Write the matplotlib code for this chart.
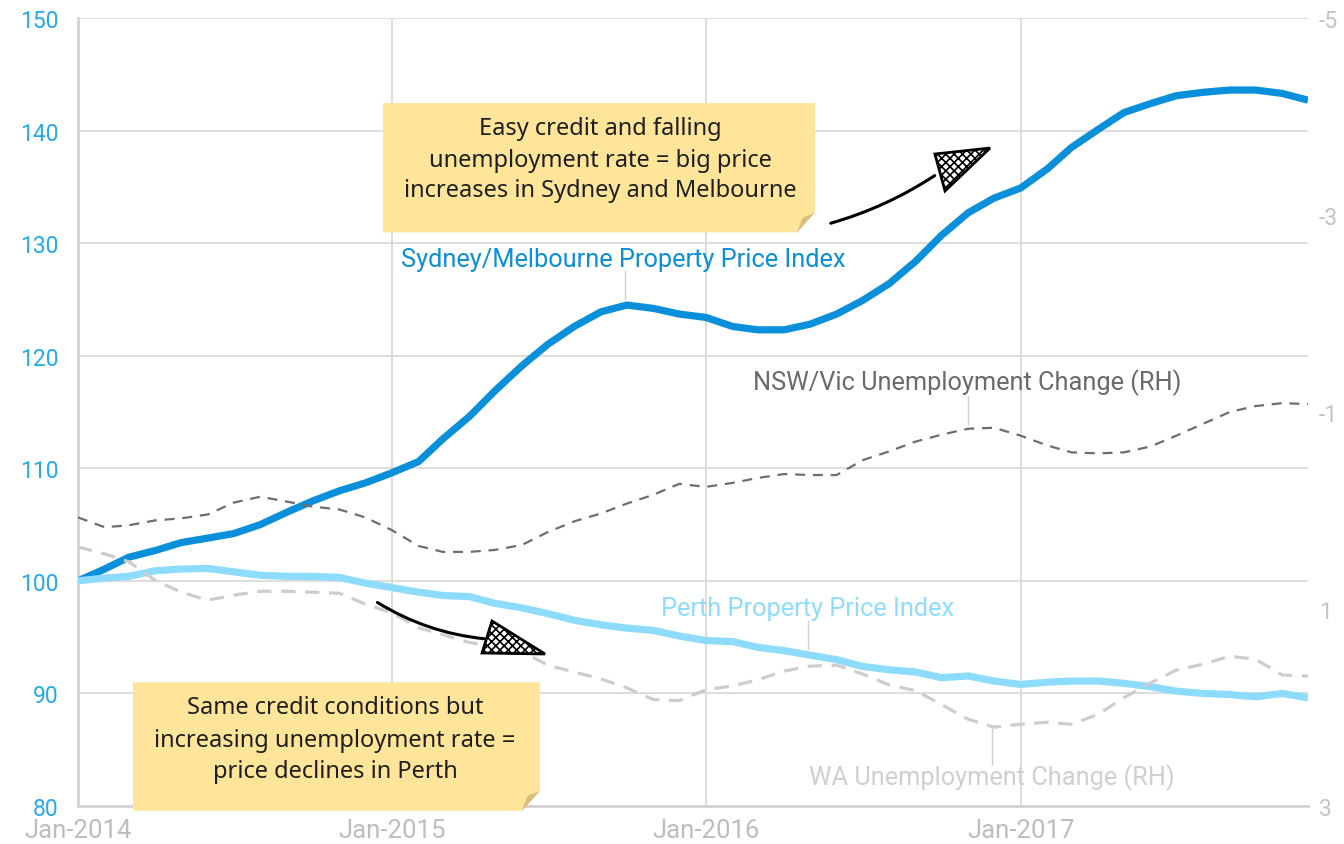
import matplotlib
matplotlib.use("Agg")
import matplotlib.pyplot as plt
import matplotlib.dates as mdates
from matplotlib.patches import Polygon, FancyArrowPatch
import pandas as pd

plt.rcParams['font.family'] = ['Roboto', 'DejaVu Sans']
plt.rcParams['axes.unicode_minus'] = False
plt.rcParams['hatch.linewidth'] = 1.2

# Monthly series, Jan-2014 to Dec-2017
months = pd.date_range('2014-01-01', periods=48, freq='MS')

syd_mel_index = [
    100.0, 101.05, 102.1, 102.7, 103.4, 103.8, 104.2, 105.0, 106.1, 107.1, 108.0, 108.7,
    109.6, 110.6, 112.6, 114.6, 116.9, 119.1, 121.0, 122.6, 123.9, 124.5, 124.2, 123.7,
    123.4, 122.6, 122.3, 122.3, 122.8, 123.7, 124.9, 126.4, 128.4, 130.7, 132.7, 134.0,
    134.9, 136.6, 138.5, 140.1, 141.6, 142.4, 143.1, 143.4, 143.6, 143.6, 143.3, 142.7,
]
perth_index = [
    100.0, 100.25, 100.4, 100.9, 101.05, 101.1, 100.8, 100.5, 100.4, 100.4, 100.3, 99.8,
    99.4, 99.0, 98.7, 98.6, 98.0, 97.6, 97.1, 96.5, 96.1, 95.8, 95.6, 95.1,
    94.7, 94.6, 94.1, 93.8, 93.4, 93.0, 92.4, 92.1, 91.9, 91.4, 91.55, 91.1,
    90.8, 91.0, 91.1, 91.1, 90.9, 90.6, 90.2, 90.0, 89.9, 89.7, 90.0, 89.6,
]
nsw_vic_unemp_change = [
    0.07, 0.17, 0.15, 0.10, 0.08, 0.04, -0.08, -0.14, -0.09, -0.04, -0.01, 0.07,
    0.20, 0.36, 0.42, 0.42, 0.40, 0.35, 0.22, 0.11, 0.03, -0.07, -0.16, -0.27,
    -0.24, -0.28, -0.33, -0.37, -0.36, -0.36, -0.51, -0.60, -0.70, -0.77, -0.83, -0.84,
    -0.76, -0.66, -0.59, -0.58, -0.59, -0.65, -0.76, -0.88, -1.00, -1.06, -1.09, -1.08,
]
wa_unemp_change = [
    0.37, 0.44, 0.52, 0.71, 0.83, 0.91, 0.86, 0.82, 0.82, 0.83, 0.84, 0.95,
    1.04, 1.19, 1.26, 1.34, 1.38, 1.43, 1.57, 1.64, 1.71, 1.80, 1.92, 1.93,
    1.82, 1.78, 1.72, 1.63, 1.58, 1.57, 1.66, 1.77, 1.83, 1.97, 2.12, 2.20,
    2.17, 2.15, 2.17, 2.07, 1.90, 1.75, 1.62, 1.56, 1.48, 1.51, 1.67, 1.68,
]

left_ticks = [80, 90, 100, 110, 120, 130, 140, 150]
right_ticks = [-5, -3, -1, 1, 3]
year_ticks = pd.to_datetime(['2014-01-01', '2015-01-01', '2016-01-01', '2017-01-01'])

SYD_BLUE = '#0A8FDA'
PERTH_BLUE = '#8EDCFD'
NSW_GREY = '#6E6E6E'
WA_GREY = '#CDCDCD'
GRID = '#DADADA'

fig = plt.figure(figsize=(13.44, 8.45), dpi=100)
ax = fig.add_axes([78 / 1344, 1 - 807 / 845, 1230 / 1344, 788 / 845])

ax.set_xlim(months[0], months[-1])
ax.set_ylim(80, 150)
ax.set_yticks(left_ticks)
ax.set_xticks(year_ticks)
ax.xaxis.set_major_formatter(mdates.DateFormatter('%b-%Y'))
ax.grid(True, color=GRID, lw=1.3)
ax.set_axisbelow(True)
for side in ('top', 'right'):
    ax.spines[side].set_visible(False)
for side in ('left', 'bottom'):
    ax.spines[side].set_color('#D2D2D2')
    ax.spines[side].set_linewidth(2)
ax.tick_params(axis='y', length=0, pad=14, labelsize=16.5, labelcolor='#27A9EC')
ax.tick_params(axis='x', length=0, pad=9, labelsize=18.5, labelcolor='#BDBDBD')

ax.plot(months, syd_mel_index, color=SYD_BLUE, lw=5.2, solid_capstyle='butt', zorder=3)
ax.plot(months, perth_index, color=PERTH_BLUE, lw=5.2, solid_capstyle='butt', zorder=3)

ax2 = ax.twinx()
ax2.set_ylim(3, -5)
ax2.set_yticks(right_ticks)
ax2.tick_params(axis='y', length=0, pad=8, labelsize=16.5, labelcolor='#C4C4C4')
for side in ax2.spines:
    ax2.spines[side].set_visible(False)
ax2.plot(months, nsw_vic_unemp_change, color=NSW_GREY, lw=1.6, dashes=(4.5, 3.5))
ax2.plot(months, wa_unemp_change, color=WA_GREY, lw=2.3, dashes=(4.5, 3.0))

# Series labels with thin leader lines
tr = ax.transAxes
labels = [
    ('Sydney/Melbourne Property Price Index', SYD_BLUE, 0.443, 0.694, 0.4447, 0.679, 0.643),
    ('NSW/Vic Unemployment Change (RH)', '#6A6A6A', 0.723, 0.538, 0.7236, 0.520, 0.485),
    ('Perth Property Price Index', PERTH_BLUE, 0.5935, 0.251, 0.5935, 0.235, 0.199),
    ('WA Unemployment Change (RH)', '#CFCFCF', 0.743, 0.037, 0.743, 0.098, 0.053),
]
for text, col, tx, ty, lx, ly0, ly1 in labels:
    ax2.text(tx, ty, text, color=col, fontsize=18.3, ha='center', va='center',
             transform=tr, zorder=6)
    ax2.plot([lx, lx], [ly0, ly1], color='#D0D0D0', lw=1, transform=tr, zorder=5)


def sticky_note(x0, x1, y0, y1, fold_w, fold_h, lines, cx, ys):
    body = Polygon([(x0, y0), (x1 - fold_w, y0), (x1, y0 + fold_h), (x1, y1), (x0, y1)],
                   closed=True, transform=tr, facecolor='#FEE59A', edgecolor='none',
                   zorder=7, clip_on=False)
    ax2.add_patch(body)
    fold = Polygon([(x1 - fold_w, y0), (x1, y0 + fold_h),
                    (x1 - fold_w * 0.7, y0 + fold_h * 0.75)],
                   closed=True, transform=tr, facecolor='#D6C07C', edgecolor='none',
                   zorder=8, clip_on=False)
    ax2.add_patch(fold)
    for line, yy in zip(lines, ys):
        ax2.text(cx, yy, line, transform=tr, ha='center', va='center', fontsize=17,
                 color='#1E1E1E', family=['Noto Sans', 'DejaVu Sans'], zorder=9,
                 clip_on=False)


sticky_note(0.2480, 0.5992, 0.728, 0.892, 0.0146, 0.025,
            ['Easy credit and falling', 'unemployment rate = big price',
             'increases in Sydney and Melbourne'],
            0.4244, [0.860, 0.820, 0.782])
sticky_note(0.0447, 0.3756, -0.006, 0.157, 0.0146, 0.025,
            ['Same credit conditions but', 'increasing unemployment rate =',
             'price declines in Perth'],
            0.209, [0.126, 0.084, 0.045])

# Hand-drawn style arrows: curved shaft plus hatched head
arrows = [
    ((0.6098, 0.7386), (0.6984, 0.8020), 0.08,
     [(0.6967, 0.8274), (0.7049, 0.7805), (0.7415, 0.8350)]),
    ((0.2415, 0.2602), (0.3325, 0.2119), 0.12,
     [(0.3366, 0.2348), (0.3285, 0.1942), (0.3797, 0.1929)]),
]
for start, end, rad, head in arrows:
    shaft = FancyArrowPatch(start, end, transform=tr,
                            connectionstyle=f'arc3,rad={rad}', arrowstyle='-',
                            lw=2.2, color='black', zorder=10, clip_on=False)
    ax2.add_patch(shaft)
    ax2.add_patch(Polygon(head, closed=True, transform=tr, facecolor='white',
                          edgecolor='black', lw=2, hatch='xxxx', zorder=11,
                          clip_on=False))

fig.savefig('out.png', dpi=100)
